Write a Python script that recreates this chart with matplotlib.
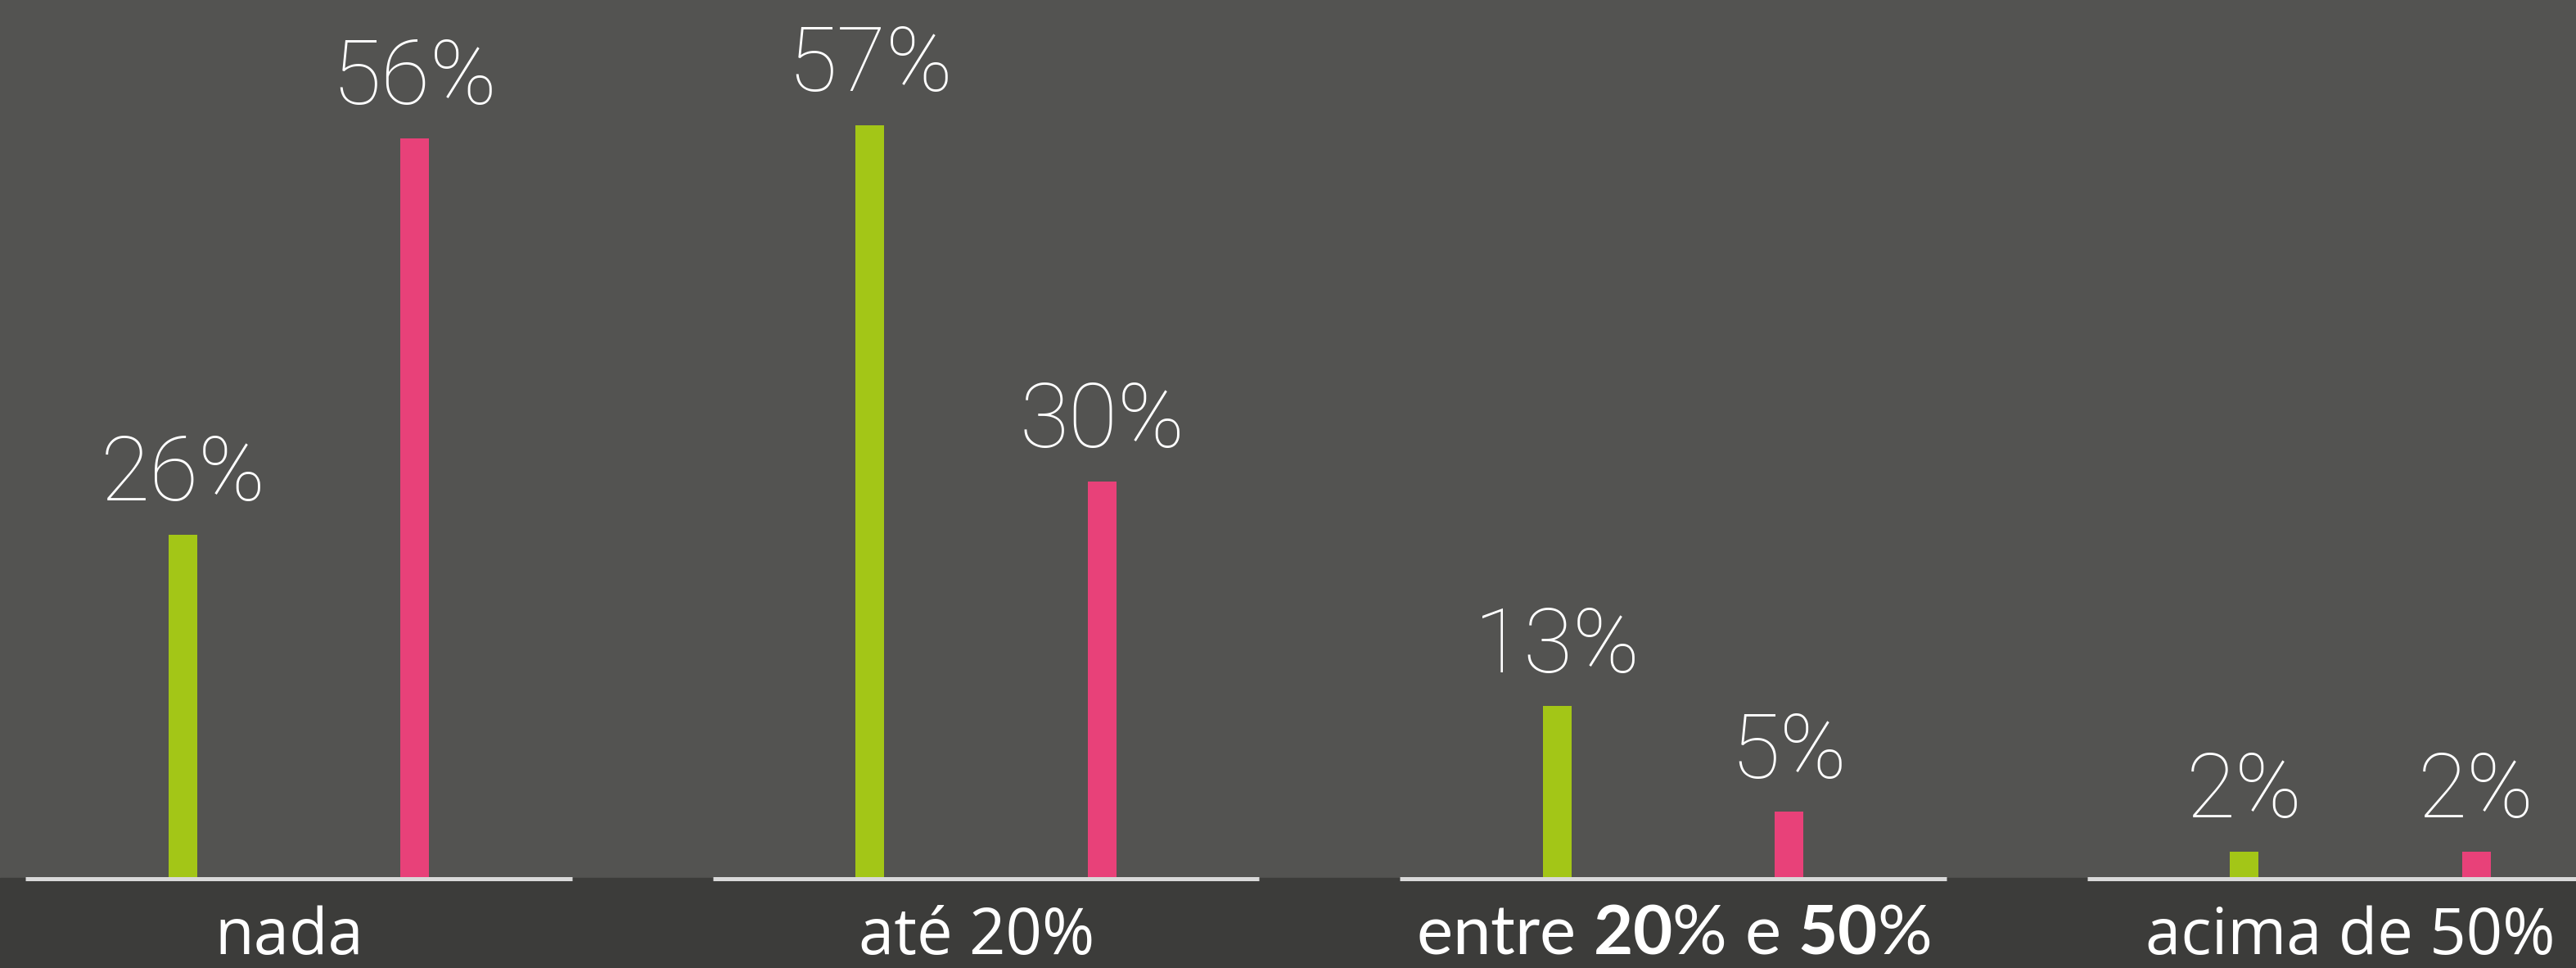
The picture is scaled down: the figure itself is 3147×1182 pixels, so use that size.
import matplotlib
matplotlib.use("Agg")
import matplotlib.pyplot as plt
import numpy as np

# Data
categories = ["nada", "até 20%", r"entre $\mathbf{20}$% e $\mathbf{50}$%", "acima de 50%"]
series_green = [26, 57, 13, 2]
series_pink = [56, 30, 5, 2]
value_labels_green = ["26%", "57%", "13%", "2%"]
value_labels_pink = ["56%", "30%", "5%", "2%"]

# Style
BG_TOP = "#535351"
BG_BOTTOM = "#3c3c3a"
GREEN = "#a3c617"
PINK = "#e84179"
BASELINE = "#d9d9d9"

plt.rcParams["mathtext.fontset"] = "custom"
plt.rcParams["mathtext.rm"] = "Lato"
plt.rcParams["mathtext.bf"] = "Lato:bold"

fig = plt.figure(figsize=(31.47, 11.82), dpi=100)
fig.patch.set_facecolor(BG_TOP)
ax = fig.add_axes([0, 0, 1, 1])
ax.set_facecolor(BG_TOP)

x = np.arange(len(categories))
offset = 0.1686
width = 0.0417

ax.set_xlim(-0.4348, 3.3139)
ax.set_ylim(-6.82, 66.46)

# darker strip under the baseline
ax.axhspan(-6.82, 0, color=BG_BOTTOM, zorder=0)

ax.bar(x - offset, series_green, width=width, color=GREEN, zorder=2)
ax.bar(x + offset, series_pink, width=width, color=PINK, zorder=2)

# baseline segment for each group
for xi in x:
    ax.plot([xi - 0.3973, xi + 0.3973], [-0.093, -0.093], color=BASELINE,
            lw=3.6, solid_capstyle="butt", zorder=3)

value_font = dict(family=["Roboto", "DejaVu Sans"], weight="light", size=79,
                  color="white")
for xi, v, s in zip(x - offset, series_green, value_labels_green):
    ax.annotate(s, (xi, v), xytext=(0, 30), textcoords="offset points",
                ha="center", va="baseline", **value_font)
for xi, v, s in zip(x + offset, series_pink, value_labels_pink):
    ax.annotate(s, (xi, v), xytext=(0, 30), textcoords="offset points",
                ha="center", va="baseline", **value_font)

for i, (xi, cat) in enumerate(zip(x, categories)):
    if "$" in cat:
        ax.text(xi, -5.75, cat, ha="center", va="baseline", color="white",
                size=60, family="Lato")
    else:
        ax.text(xi - 0.014, -5.75, cat, ha="center", va="baseline", color="white",
                size=56, family=["Open Sans", "DejaVu Sans"])

ax.axis("off")
fig.savefig("out.png", dpi=100, facecolor=BG_TOP)
